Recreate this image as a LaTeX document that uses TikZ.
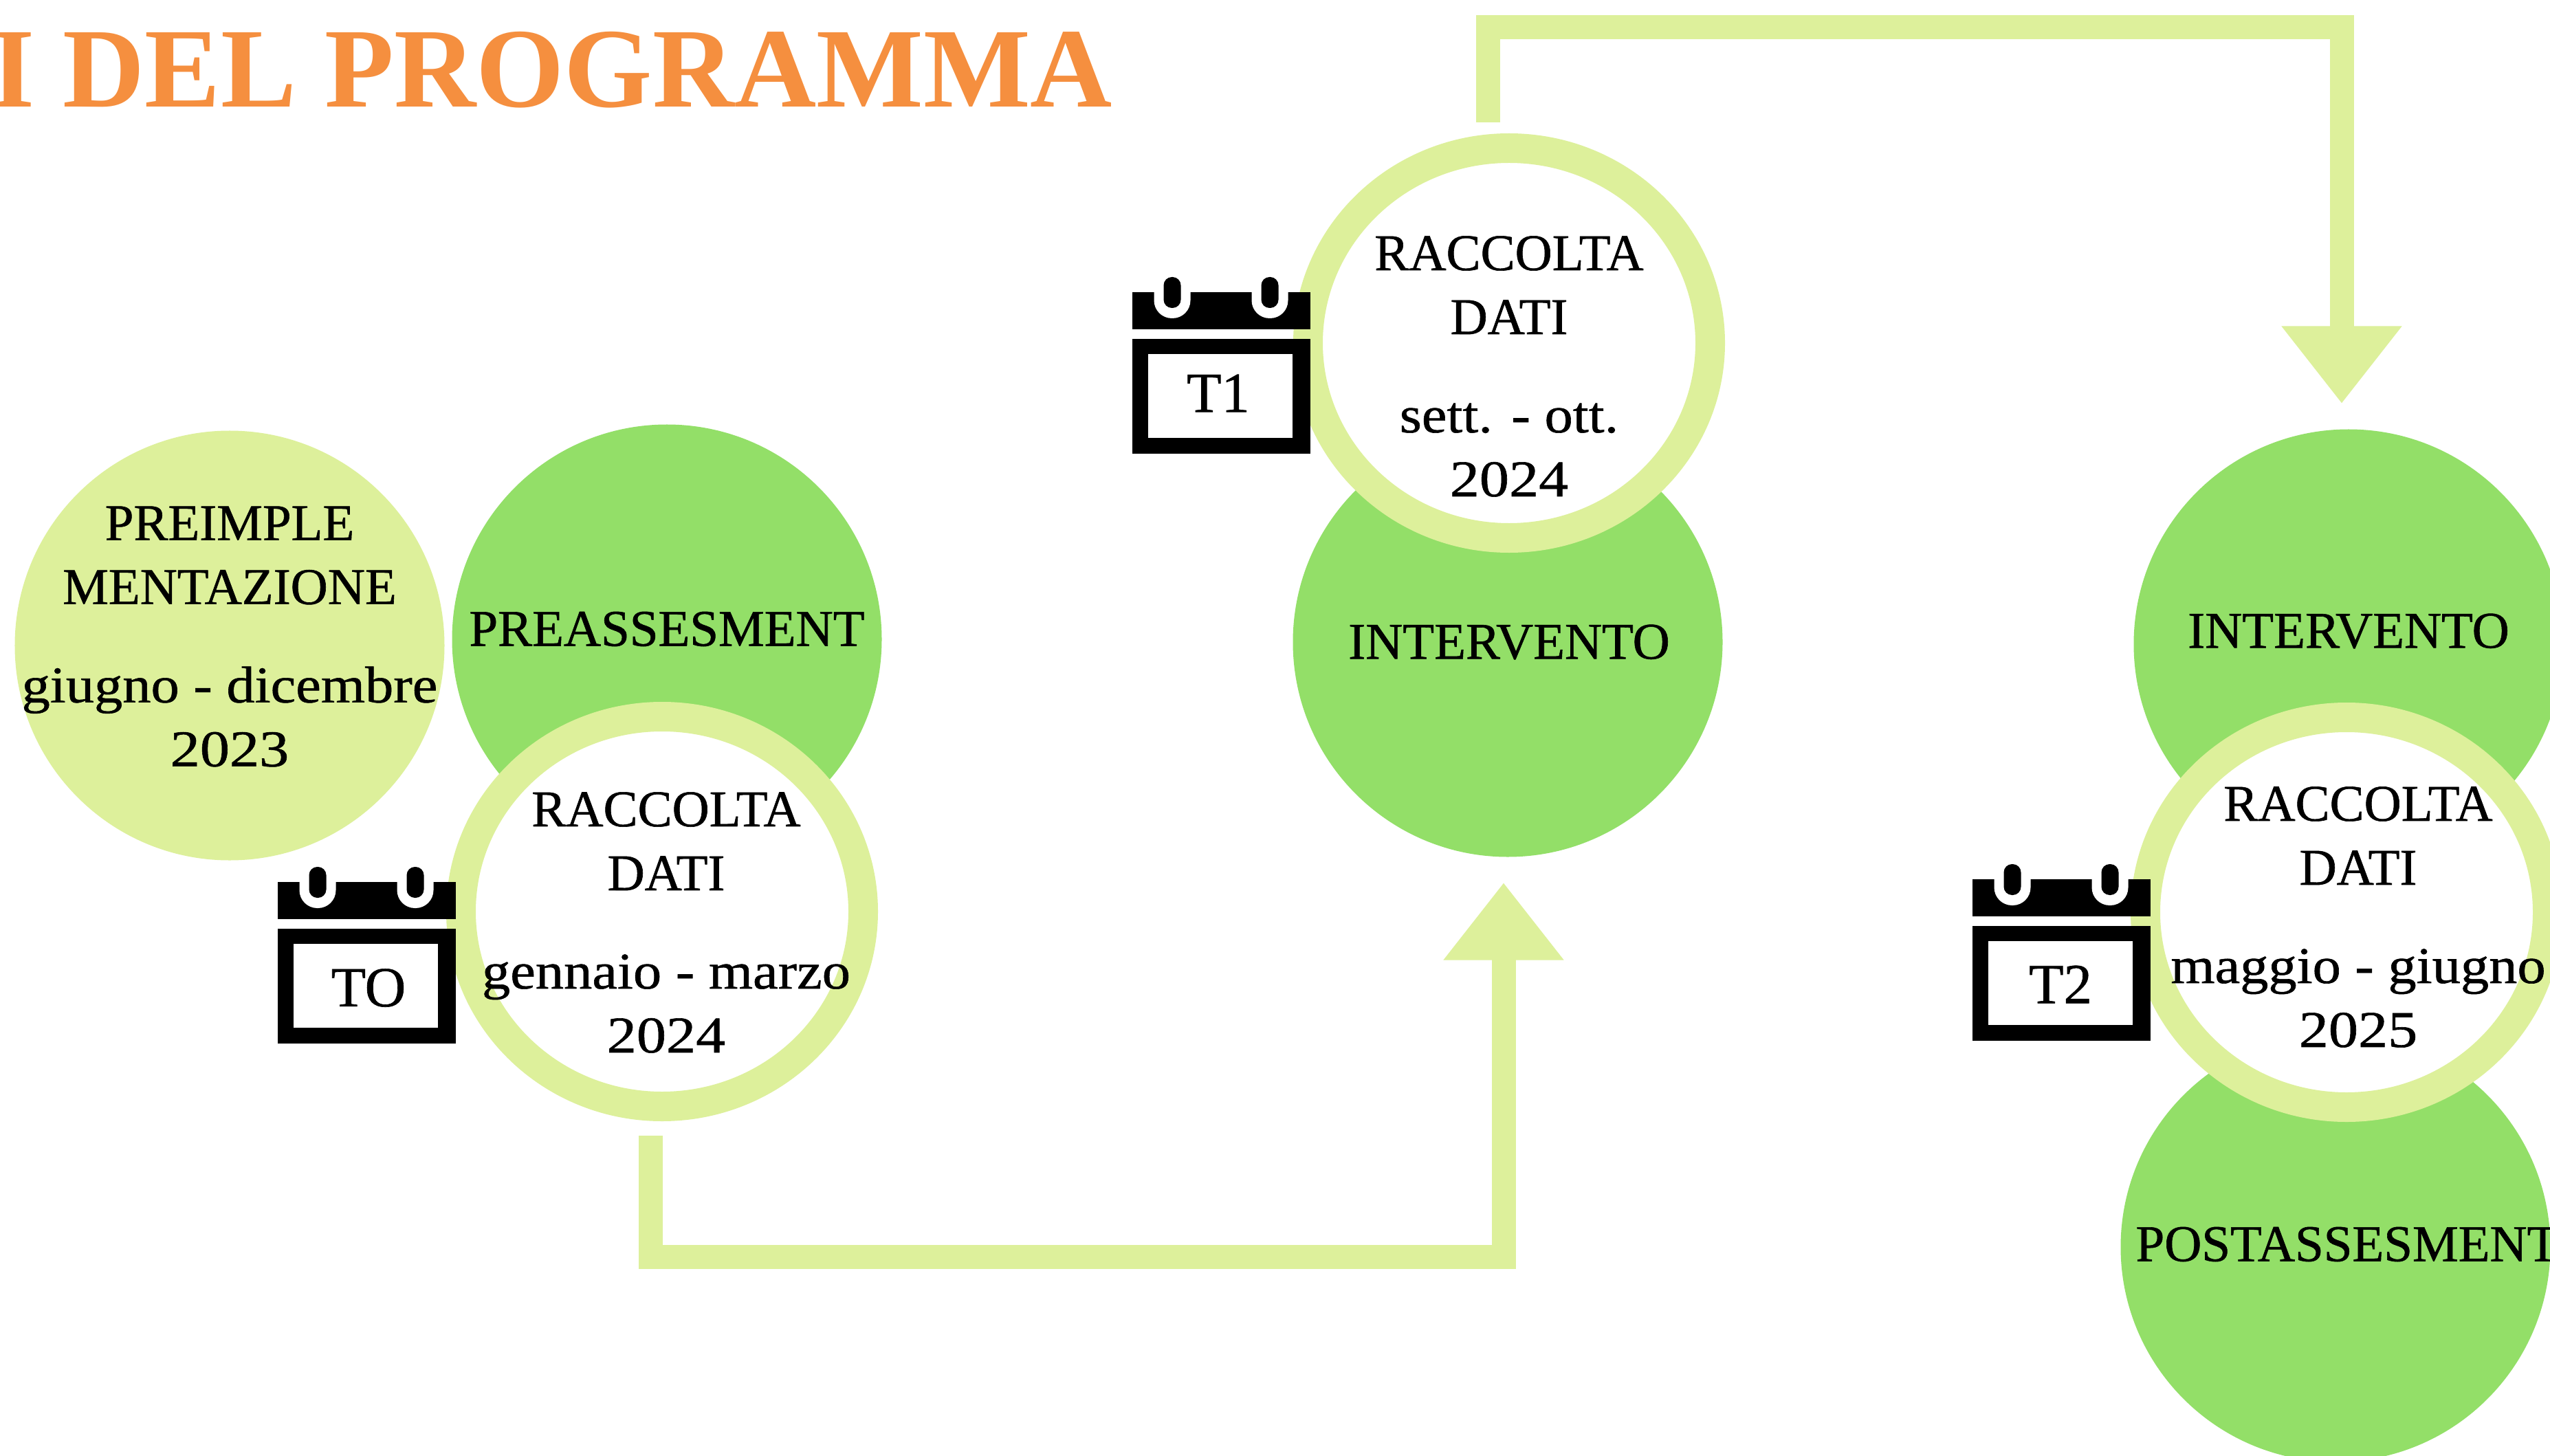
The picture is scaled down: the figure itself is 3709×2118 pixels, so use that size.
\documentclass[tikz,border=0pt]{standalone}
\usepackage{fontspec}
\setmainfont{Liberation Serif}
\newfontfamily\bodyf[FakeBold=0.8]{Liberation Serif}
\newfontfamily\widef[FakeBold=0.8,FakeStretch=1.1]{Liberation Serif}
\newfontfamily\yearf[FakeBold=0.8,FakeStretch=1.15]{Liberation Serif}
\usetikzlibrary{arrows.meta,shapes.geometric}
\definecolor{leaf}{HTML}{93DF68}
\definecolor{pale}{HTML}{DDF09B}
\definecolor{tang}{HTML}{F58F3F}
\tikzset{
  disc/.style={circle,draw=none,inner sep=0pt,outer sep=0pt,minimum size=125pt},
  leafdisc/.style={disc,fill=leaf},
  paledisc/.style={disc,fill=pale},
  ring/.style={ellipse,draw=pale,fill=white,line width=8.6pt,inner sep=0pt,outer sep=0pt,minimum width=117pt,minimum height=113.4pt},
  label/.style={align=center,inner sep=0pt,outer sep=0pt,text=black,font=\bodyf\fontsize{15}{18.6}\selectfont},
  callabel/.style={inner sep=0pt,outer sep=0pt,text=black,font=\bodyf\fontsize{16.5}{18}\selectfont},
  flow/.style={draw=pale,line width=7pt,line join=miter,-{Triangle[length=22.5pt,width=33.5pt,fill=pale]}},
}
\newcommand{\calicon}[6]{% name, dx, dy, label x, label y, label
  \begin{scope}[shift={(#2,#3)}]
    \fill[black] (404,1283) rectangle (663,1337);
    \fill[white,rounded corners=5.2pt] (435.5,1250) rectangle (488.5,1321);
    \fill[white,rounded corners=5.2pt] (577.5,1250) rectangle (630.5,1321);
    \fill[black,rounded corners=2.4pt] (449.5,1261) rectangle (474.5,1306);
    \fill[black,rounded corners=2.4pt] (591.5,1261) rectangle (616.5,1306);
    \fill[black] (404,1351) rectangle (663,1518);
    \fill[white] (427,1373) rectangle (637,1495);
  \end{scope}
  \node[callabel] (#1) at (#4,#5) {#6};
}
\begin{document}
\begin{tikzpicture}[x=0.2pt,y=-0.2pt]
\useasboundingbox (0,0) rectangle (3709,2118);
\fill[white] (0,0) rectangle (3709,2118);
% title, cut by the left edge as in the picture
\node[anchor=base east,inner sep=0pt,outer sep=0pt,text=tang,font=\bfseries\fontsize{33}{36}\selectfont] (title) at (1618,156) {I DEL PROGRAMMA};
% discs
\node[paledisc] (preimpl) at (334,939) {};
\node[leafdisc] (preass) at (970,930) {};
\node[leafdisc] (int1) at (2193,934) {};
\node[leafdisc] (int2) at (3416,937) {};
\node[leafdisc] (post) at (3397,1814) {};
% rings
\node[ring] (r0) at (963,1326) {};
\node[ring] (r1) at (2195,499) {};
\node[ring] (r2) at (3413,1327) {};
% connectors
\coordinate (a1s) at (946,1652);
\coordinate (a1c) at (2187,1828);
\coordinate (a1t) at (2187,1284);
\coordinate (a2s) at (2164,178);
\coordinate (a2c) at (3406,40);
\coordinate (a2t) at (3406,587);
\draw[flow] (a1s) |- (a1c) -- (a1t);
\draw[flow] (a2s) |- (a2c) -- (a2t);
% calendars
\calicon{c0}{0}{0}{536}{1437}{TO}
\calicon{c1}{1243}{-858}{1772}{572}{T1}
\calicon{c2}{2465}{-4}{2997}{1432}{T2}
% texts
\node[label] (tpre) at (334,926) {PREIMPLE\\MENTAZIONE\\[10pt]{\widef giugno - dicembre}\\{\yearf 2023}};
\node[label] (tpreass) at (970,915) {PREASSESMENT};
\node[label] (tr0) at (969,1342) {RACCOLTA\\DATI\\[10pt]{\widef gennaio - marzo}\\{\yearf 2024}};
\node[label] (tr1) at (2195,533) {RACCOLTA\\DATI\\[10pt]{\widef sett. - ott.}\\{\yearf 2024}};
\node[label] (tint1) at (2195,934) {INTERVENTO};
\node[label] (tint2) at (3416,918) {INTERVENTO};
\node[label] (tr2) at (3430,1334) {RACCOLTA\\DATI\\[10pt]{\widef maggio - giugno}\\{\yearf 2025}};
\node[label] (tpost) at (3414,1810) {POSTASSESMENT};
\end{tikzpicture}
\end{document}
